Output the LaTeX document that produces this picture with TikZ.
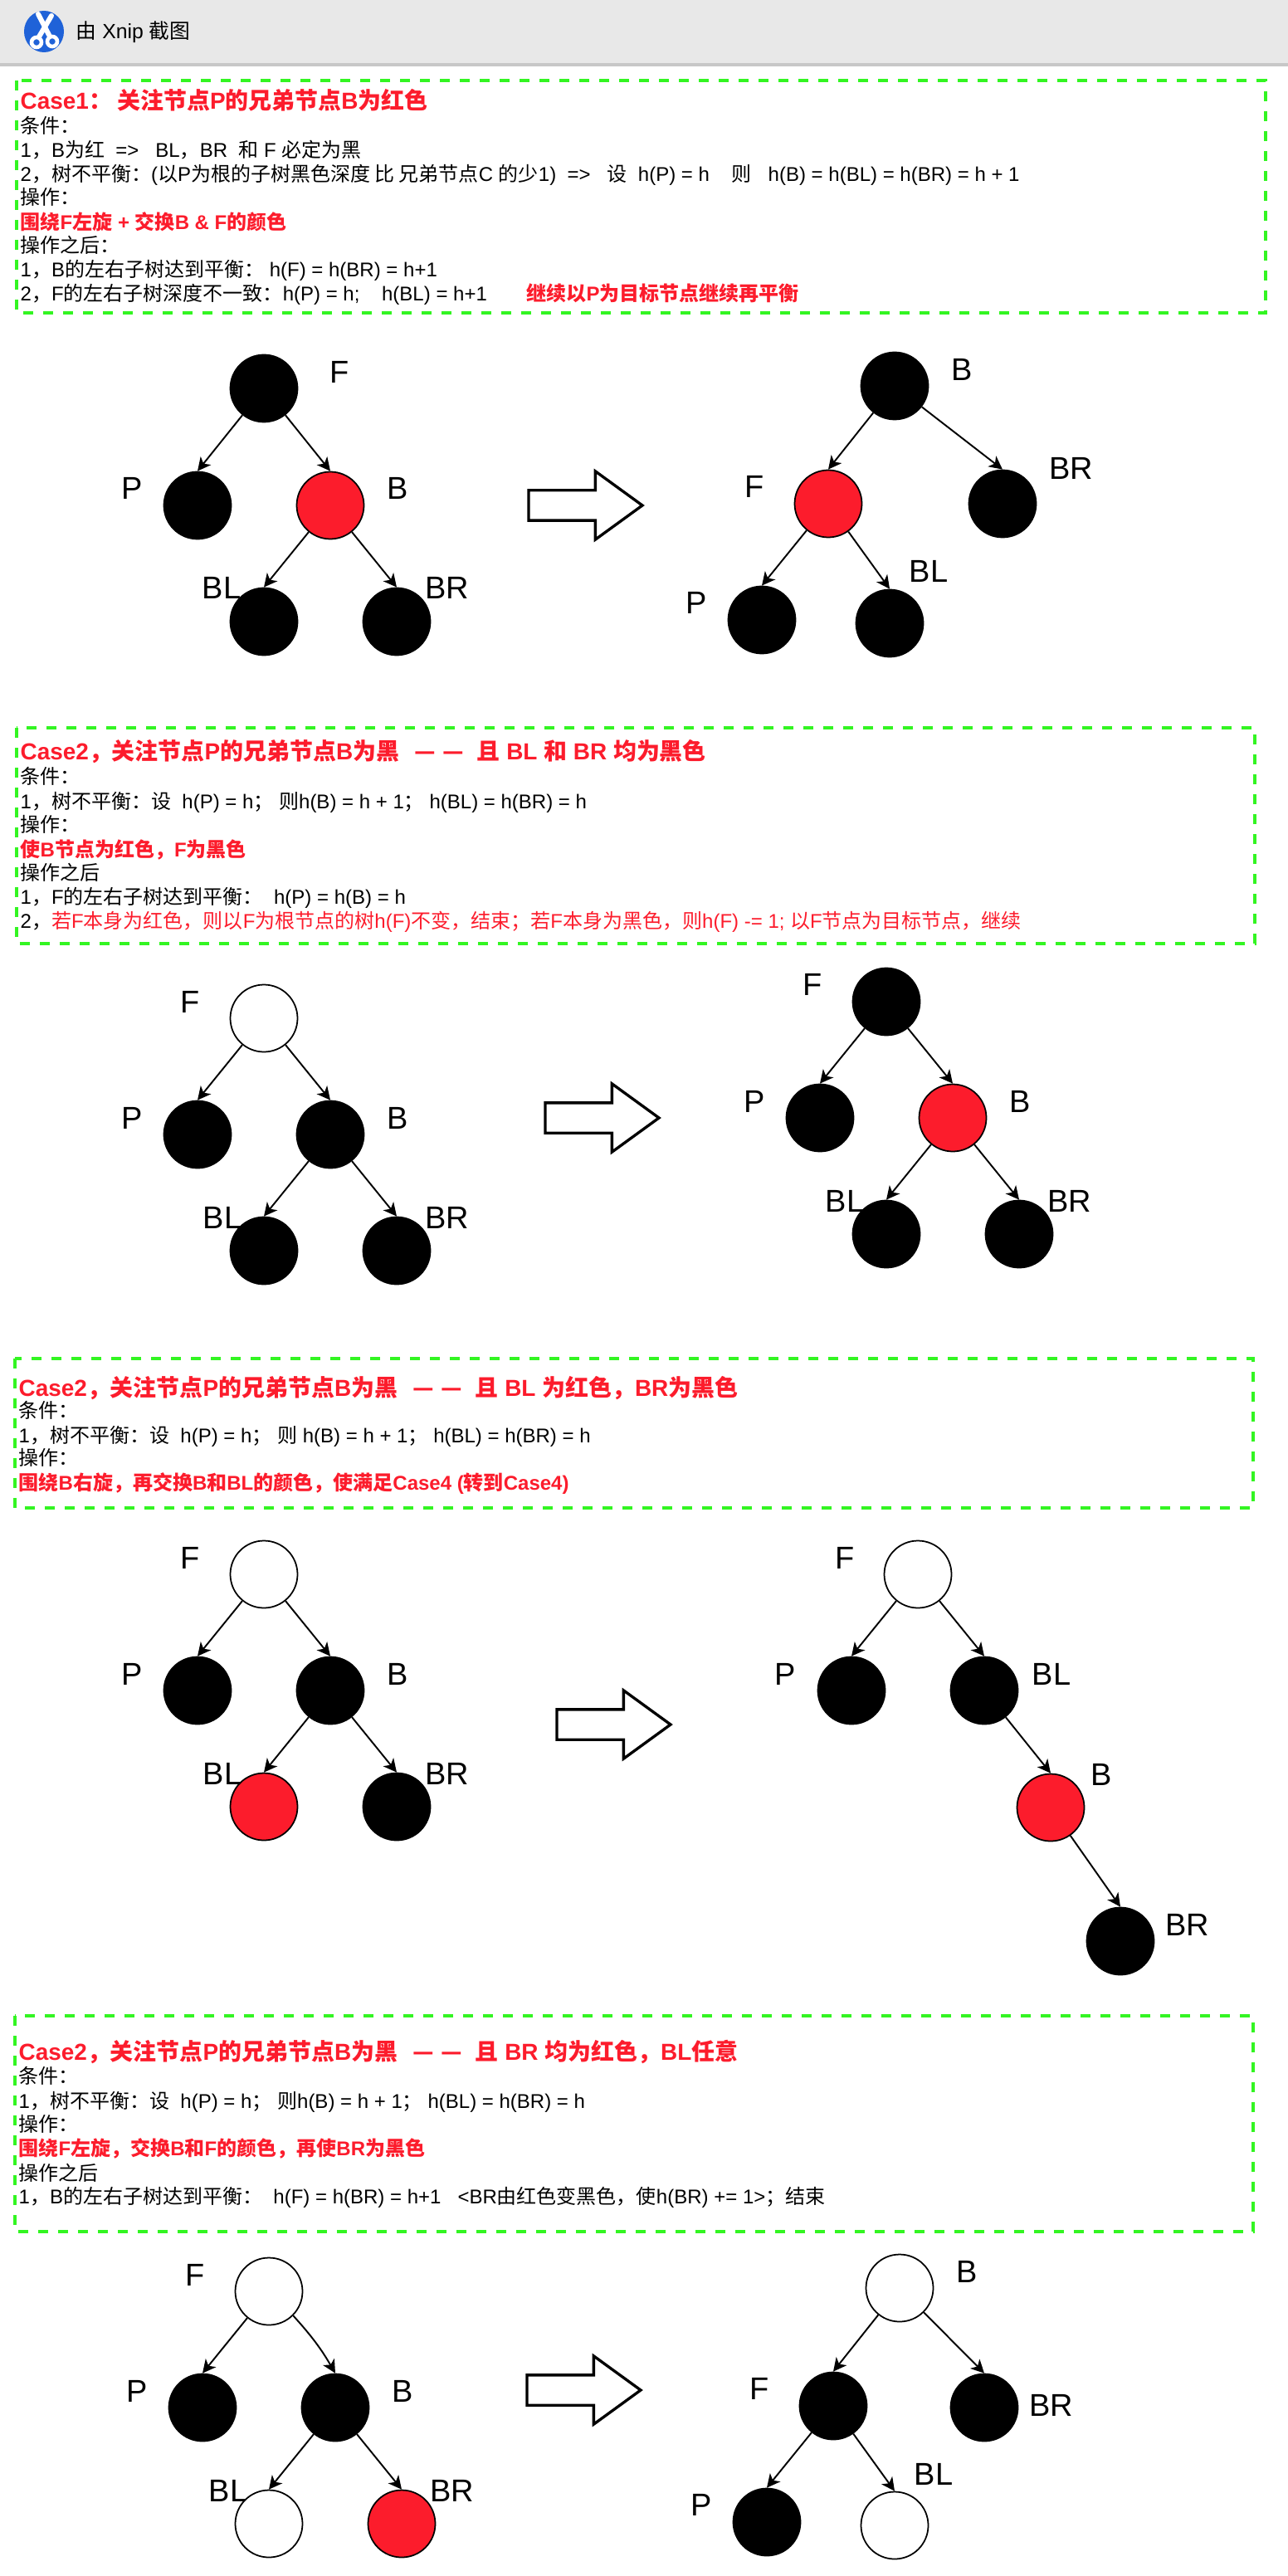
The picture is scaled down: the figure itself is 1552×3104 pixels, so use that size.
\documentclass[tikz,border=0pt]{standalone}
\usepackage{fontspec}
\usepackage{tikz}
\usetikzlibrary{arrows.meta,shapes.arrows}
\setmainfont{Liberation Sans}
\newfontfamily\cjk{Noto Sans CJK SC}
\newcommand{\zh}[1]{{\cjk #1}}
\newcommand{\dashes}{\hspace{0.3mm}\zh{—}\hspace{0.8mm}\zh{—}\hspace{0.8mm}}
\definecolor{nodered}{HTML}{FC1C2C}
\definecolor{framegreen}{HTML}{33F522}
\definecolor{barblue}{HTML}{1F62D8}

\tikzset{
    tree/.style={circle,draw=black,line width=0.5pt,inner sep=0pt,minimum size=8.1mm},
    blacknode/.style={tree,fill=black},
    rednode/.style={tree,fill=nodered},
    whitenode/.style={tree,fill=white},
    caseframe/.style={draw=framegreen,line width=1.15pt,dash pattern=on 1.2mm off 1.2mm},
    bigarrow/.style={single arrow,draw=black,fill=white,line width=0.95pt,inner xsep=0pt,inner ysep=1.65mm,
        minimum height=13.7mm,single arrow head extend=2.3mm,
        single arrow tip angle=72,single arrow head indent=0pt},
    line/.style={anchor=base west,inner sep=0pt,font=\fontsize{6.83}{8}\selectfont},
    hot/.style={line,text=nodered,font=\fontsize{6.83}{8}\selectfont\bfseries},
    title/.style={line,text=nodered,font=\fontsize{7.95}{9}\selectfont\bfseries},
}

\begin{document}
\begin{tikzpicture}[x=0.1mm,y=-0.1mm]
\useasboundingbox (0,0) rectangle (1552,3104);

% window bar
\fill [black!9] (0,0) rectangle (1552,76);
\fill [black!22] (0,76) rectangle (1552,80);
\fill [barblue] (53,38) circle [x radius=24,y radius=25];
\draw [white,line width=1.7pt,line cap=round] (46,17) -- (60,44);
\draw [white,line width=1.7pt,line cap=round] (62,19) -- (46,46);
\draw [white,fill=barblue,line width=1.3pt] (44,51) circle [radius=6];
\draw [white,fill=barblue,line width=1.3pt] (63,50) circle [radius=6];
\node [line,font=\fontsize{7.05}{8}\selectfont] (barlabel) at (91,47) {\zh{由} Xnip \zh{截图}};

% case 1
\draw [caseframe] (20,97) rectangle (1525,377);
\node [title] (a0) at (24,132) {Case1\zh{：~关注节点}P\zh{的兄弟节点}B\zh{为红色}};
\node [line] (a1) at (24,161) {\zh{条件：}};
\node [line] (a2) at (24,190) {1\zh{，}B\zh{为红}~~=>~~~BL\zh{，}BR~~\zh{和} F \zh{必定为黑}};
\node [line] (a3) at (24,219) {2\zh{，树不平衡：}(\zh{以}P\zh{为根的子树黑色深度 比 兄弟节点}C \zh{的少}1)~~=>~~~\zh{设}~~h(P) = h~~~~\zh{则}~~~h(B) = h(BL) = h(BR) = h + 1};
\node [line] (a4) at (24,247) {\zh{操作：}};
\node [hot] (a5) at (24,277) {\zh{围绕}F\zh{左旋} + \zh{交换}B \& F\zh{的颜色}};
\node [line] (a6) at (24,305) {\zh{操作之后：}};
\node [line] (a7) at (24,334) {1\zh{，}B\zh{的左右子树达到平衡：}~h(F) = h(BR) = h+1};
\node [line] (a8) at (24,363) {2\zh{，}F\zh{的左右子树深度不一致：}h(P) = h;~~~~h(BL) = h+1};
\node [hot] (a9) at (634,363) {\zh{继续以}P\zh{为目标节点继续再平衡}};

\begin{scope}[every node/.style={inner sep=0pt,font=\fontsize{10.8}{12}\selectfont}]
    \node (lF1) at (409,448) {F};
    \node (lP1) at (159,588) {P};
    \node (lB1) at (479,588) {B};
    \node (lBL1) at (267,708) {BL};
    \node (lBR1) at (539,708) {BR};
    \node (lB1r) at (1159,445) {B};
    \node (lF1r) at (909,586) {F};
    \node (lBR1r) at (1291,564) {BR};
    \node (lP1r) at (839,726) {P};
    \node (lBL1r) at (1119,688) {BL};
\end{scope}

\node [blacknode] (F1) at (318,468) {};
\node [blacknode] (P1) at (238,609) {};
\node [rednode] (B1) at (398,609) {};
\node [blacknode] (BL1) at (318,749) {};
\node [blacknode] (BR1) at (478,749) {};
\node [bigarrow] (arrow1) at (693,609) {};
\node [blacknode] (B1r) at (1078,465) {};
\node [rednode] (F1r) at (998,607) {};
\node [blacknode] (BR1r) at (1208,607) {};
\node [blacknode] (P1r) at (918,747) {};
\node [blacknode] (BL1r) at (1072,751) {};

% case 2
\draw [caseframe] (20,877) rectangle (1512,1137);
\node [title] (b0) at (24,915) {Case2\zh{，关注节点}P\zh{的兄弟节点}B\zh{为黑}~~\dashes~\zh{且} BL \zh{和} BR \zh{均为黑色}};
\node [line] (b1) at (24,944) {\zh{条件：}};
\node [line] (b2) at (24,974) {1\zh{，树不平衡：设}~~h(P) = h\zh{；}~\zh{则}h(B) = h + 1\zh{；}~h(BL) = h(BR) = h};
\node [line] (b3) at (24,1002) {\zh{操作：}};
\node [hot] (b4) at (24,1032) {\zh{使}B\zh{节点为红色，}F\zh{为黑色}};
\node [line] (b5) at (24,1060) {\zh{操作之后}};
\node [line] (b6) at (24,1089) {1\zh{，}F\zh{的左右子树达到平衡：}~~h(P) = h(B) = h};
\node [line] (b7) at (24,1118) {2\zh{，}\textcolor{nodered}{\zh{若}F\zh{本身为红色，则以}F\zh{为根节点的树}h(F)\zh{不变，结束；若}F\zh{本身为黑色，则}h(F) -= 1; \zh{以}F\zh{节点为目标节点，继续}}};

\begin{scope}[every node/.style={inner sep=0pt,font=\fontsize{10.8}{12}\selectfont}]
    \node (lF2) at (229,1207) {F};
    \node (lP2) at (159,1347) {P};
    \node (lB2) at (479,1347) {B};
    \node (lBL2) at (268,1467) {BL};
    \node (lBR2) at (539,1467) {BR};
    \node (lF2r) at (979,1186) {F};
    \node (lP2r) at (909,1327) {P};
    \node (lB2r) at (1229,1327) {B};
    \node (lBL2r) at (1018,1447) {BL};
    \node (lBR2r) at (1289,1447) {BR};
\end{scope}

\node [whitenode] (F2) at (318,1227) {};
\node [blacknode] (P2) at (238,1367) {};
\node [blacknode] (B2) at (398,1367) {};
\node [blacknode] (BL2) at (318,1507) {};
\node [blacknode] (BR2) at (478,1507) {};
\node [bigarrow] (arrow2) at (713,1347) {};
\node [blacknode] (F2r) at (1068,1207) {};
\node [blacknode] (P2r) at (988,1347) {};
\node [rednode] (B2r) at (1148,1347) {};
\node [blacknode] (BL2r) at (1068,1487) {};
\node [blacknode] (BR2r) at (1228,1487) {};

% case 3
\draw [caseframe] (18,1637) rectangle (1510,1817);
\node [title] (c0) at (22,1682) {Case2\zh{，关注节点}P\zh{的兄弟节点}B\zh{为黑}~~\dashes~\zh{且} BL \zh{为红色，}BR\zh{为黑色}};
\node [line] (c1) at (22,1708) {\zh{条件：}};
\node [line] (c2) at (22,1738) {1\zh{，树不平衡：设}~~h(P) = h\zh{；}~\zh{则} h(B) = h + 1\zh{；}~h(BL) = h(BR) = h};
\node [line] (c3) at (22,1765) {\zh{操作：}};
\node [hot] (c4) at (22,1795) {\zh{围绕}B\zh{右旋，再交换}B\zh{和}BL\zh{的颜色，使满足}Case4 (\zh{转到}Case4)};

\begin{scope}[every node/.style={inner sep=0pt,font=\fontsize{10.8}{12}\selectfont}]
    \node (lF3) at (229,1877) {F};
    \node (lP3) at (159,2017) {P};
    \node (lB3) at (479,2017) {B};
    \node (lBL3) at (268,2137) {BL};
    \node (lBR3) at (539,2137) {BR};
    \node (lF3r) at (1018,1877) {F};
    \node (lP3r) at (946,2017) {P};
    \node (lBL3r) at (1267,2017) {BL};
    \node (lB3r) at (1327,2138) {B};
    \node (lBR3r) at (1431,2319) {BR};
\end{scope}

\node [whitenode] (F3) at (318,1897) {};
\node [blacknode] (P3) at (238,2037) {};
\node [blacknode] (B3) at (398,2037) {};
\node [rednode] (BL3) at (318,2177) {};
\node [blacknode] (BR3) at (478,2177) {};
\node [bigarrow] (arrow3) at (727,2078) {};
\node [whitenode] (F3r) at (1106,1897) {};
\node [blacknode] (P3r) at (1026,2037) {};
\node [blacknode] (BL3r) at (1186,2037) {};
\node [rednode] (B3r) at (1266,2178) {};
\node [blacknode] (BR3r) at (1350,2339) {};

% case 4
\draw [caseframe] (18,2429) rectangle (1510,2689);
\node [title] (d0) at (22,2482) {Case2\zh{，关注节点}P\zh{的兄弟节点}B\zh{为黑}~~\dashes~\zh{且} BR \zh{均为红色，}BL\zh{任意}};
\node [line] (d1) at (22,2510) {\zh{条件：}};
\node [line] (d2) at (22,2540) {1\zh{，树不平衡：设}~~h(P) = h\zh{；}~\zh{则}h(B) = h + 1\zh{；}~h(BL) = h(BR) = h};
\node [line] (d3) at (22,2568) {\zh{操作：}};
\node [hot] (d4) at (22,2597) {\zh{围绕}F\zh{左旋，交换}B\zh{和}F\zh{的颜色，再使}BR\zh{为黑色}};
\node [line] (d5) at (22,2627) {\zh{操作之后}};
\node [line] (d6) at (22,2655) {1\zh{，}B\zh{的左右子树达到平衡：}~~h(F) = h(BR) = h+1~~~<BR\zh{由红色变黑色，使}h(BR) += 1>\zh{；结束}};

\begin{scope}[every node/.style={inner sep=0pt,font=\fontsize{10.8}{12}\selectfont}]
    \node (lF4) at (235,2741) {F};
    \node (lP4) at (165,2881) {P};
    \node (lB4) at (485,2881) {B};
    \node (lBL4) at (275,3001) {BL};
    \node (lBR4) at (545,3001) {BR};
    \node (lB4r) at (1165,2737) {B};
    \node (lF4r) at (915,2878) {F};
    \node (lBR4r) at (1267,2898) {BR};
    \node (lP4r) at (845,3018) {P};
    \node (lBL4r) at (1125,2981) {BL};
\end{scope}

\node [whitenode] (F4) at (324,2761) {};
\node [blacknode] (P4) at (244,2901) {};
\node [blacknode] (B4) at (404,2901) {};
\node [whitenode] (BL4) at (324,3041) {};
\node [rednode] (BR4) at (484,3041) {};
\node [bigarrow] (arrow4) at (691,2880) {};
\node [whitenode] (B4r) at (1084,2757) {};
\node [blacknode] (F4r) at (1004,2899) {};
\node [blacknode] (BR4r) at (1186,2901) {};
\node [blacknode] (P4r) at (924,3039) {};
\node [whitenode] (BL4r) at (1078,3043) {};

% tree edges
\begin{scope}[>={Stealth[black,length=1.6mm,width=1.6mm,inset=0.45mm]},
              every edge/.style={draw=black,line width=0.55pt}]
    \path [->] (F1) edge (P1.north);
    \path [->] (F1) edge (B1.north);
    \path [->] (B1) edge (BL1.north);
    \path [->] (B1) edge (BR1.north);
    \path [->] (B1r) edge (F1r.north);
    \path [->] (B1r) edge (BR1r.north);
    \path [->] (F1r) edge (P1r.north);
    \path [->] (F1r) edge (BL1r.north);

    \path [->] (F2) edge (P2.north);
    \path [->] (F2) edge (B2.north);
    \path [->] (B2) edge (BL2.north);
    \path [->] (B2) edge (BR2.north);
    \path [->] (F2r) edge (P2r.north);
    \path [->] (F2r) edge (B2r.north);
    \path [->] (B2r) edge (BL2r.north);
    \path [->] (B2r) edge (BR2r.north);

    \path [->] (F3) edge (P3.north);
    \path [->] (F3) edge (B3.north);
    \path [->] (B3) edge (BL3.north);
    \path [->] (B3) edge (BR3.north);
    \path [->] (F3r) edge (P3r.north);
    \path [->] (F3r) edge (BL3r.north);
    \path [->] (BL3r) edge (B3r.north);
    \path [->] (B3r) edge (BR3r.north);

    \path [->] (F4) edge (P4.north);
    \path [->] (F4) edge [bend left=6] (B4.north);
    \path [->] (B4) edge (BL4.north);
    \path [->] (B4) edge (BR4.north);
    \path [->] (B4r) edge (F4r.north);
    \path [->] (B4r) edge (BR4r.north);
    \path [->] (F4r) edge (P4r.north);
    \path [->] (F4r) edge (BL4r.north);
\end{scope}
\end{tikzpicture}
\end{document}
